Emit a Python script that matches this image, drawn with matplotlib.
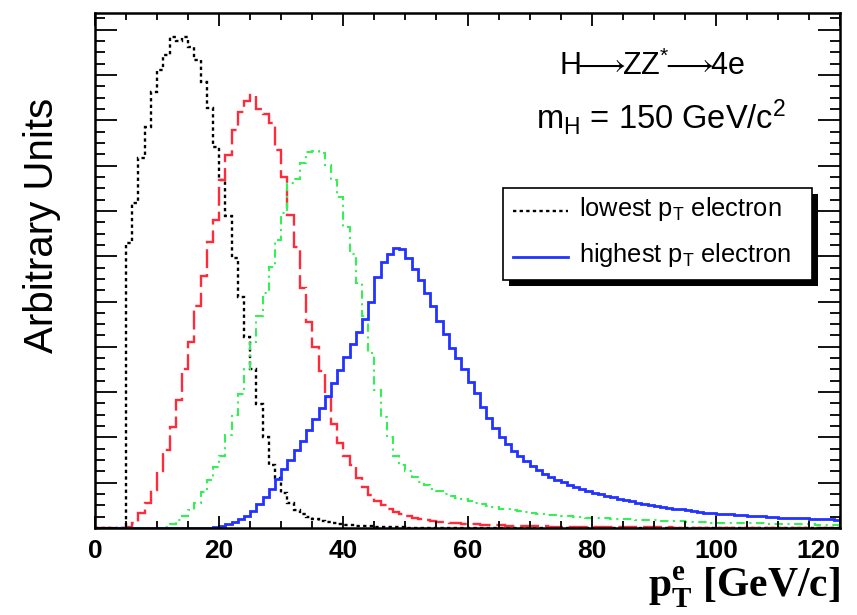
import numpy as np
import matplotlib
matplotlib.use("Agg")
import matplotlib.pyplot as plt
from matplotlib.ticker import MultipleLocator, NullFormatter
from matplotlib.patches import Rectangle
from matplotlib.lines import Line2D

plt.rcParams['font.family'] = ['Liberation Sans', 'DejaVu Sans']
plt.rcParams['mathtext.fontset'] = 'custom'
plt.rcParams['mathtext.rm'] = 'Liberation Sans'
plt.rcParams['mathtext.it'] = 'Liberation Sans:italic'
plt.rcParams['mathtext.bf'] = 'Liberation Serif:bold'

# ---- data: 1 GeV/c bins from 0 to 120, arbitrary units ----
bin_edges = np.arange(0, 121, 1)
x_ticks = [0, 20, 40, 60, 80, 100, 120]

lowest_pt = [
    0, 0, 0, 0, 0, 6.29, 7.17, 8.17, 8.86, 9.63,
    10.11, 10.44, 10.85, 10.76, 10.85, 10.63, 10.33, 9.85, 9.27, 8.41,
    7.68, 6.88, 5.96, 5.10, 4.22, 3.50, 2.74, 2.02, 1.40, 1.10,
    0.77, 0.55, 0.40, 0.32, 0.25, 0.19, 0.15, 0.13, 0.10, 0.09,
    0.07, 0.06, 0.05, 0.05, 0.04, 0.03, 0.03, 0.02, 0.02, 0.02,
    0.01, 0.01, 0.01, 0.01, 0.01, 0.01, 0.01, 0.01, 0.01, 0.01,
    0.01, 0.01, 0.01, 0.01, 0.01, 0, 0, 0, 0, 0,
] + [0] * 50

second_pt = [
    0, 0, 0, 0, 0, 0.02, 0.11, 0.33, 0.55, 0.84,
    1.25, 1.73, 2.24, 2.83, 3.50, 4.10, 4.90, 5.56, 6.32, 6.80,
    7.68, 8.23, 8.79, 9.19, 9.42, 9.56, 9.25, 9.14, 8.94, 8.34,
    7.76, 6.90, 6.20, 5.30, 4.55, 4.00, 3.46, 2.90, 2.30, 1.87,
    1.60, 1.40, 1.10, 0.90, 0.73, 0.60, 0.50, 0.42, 0.35, 0.30,
    0.26, 0.22, 0.20, 0.18, 0.16, 0.14, 0.13, 0.11, 0.10, 0.09,
    0.08, 0.08, 0.07, 0.07, 0.06, 0.06, 0.05, 0.05, 0.05, 0.04,
    0.04, 0.04, 0.04, 0.03, 0.03, 0.03, 0.03, 0.03, 0.02, 0.02,
    0.02, 0.02, 0.02, 0.02, 0.02, 0.02, 0.02, 0.02, 0.02, 0.02,
    0.02, 0.02, 0.02, 0.01, 0.01, 0.01, 0.01, 0.01, 0.01, 0.01,
] + [0.01] * 20

third_pt = [
    0, 0, 0, 0, 0, 0, 0, 0, 0, 0,
    0, 0.02, 0.08, 0.17, 0.27, 0.40, 0.55, 0.80, 1.05, 1.35,
    1.60, 2.05, 2.50, 2.95, 3.50, 4.10, 4.67, 5.18, 5.77, 6.36,
    6.95, 7.61, 7.70, 8.05, 8.30, 8.33, 8.28, 8.02, 7.68, 7.31,
    6.65, 6.06, 5.40, 4.67, 3.86, 3.05, 2.45, 2.00, 1.60, 1.40,
    1.25, 1.12, 1.02, 0.94, 0.87, 0.81, 0.76, 0.71, 0.67, 0.63,
    0.60, 0.56, 0.52, 0.49, 0.46, 0.43, 0.41, 0.39, 0.37, 0.35,
    0.33, 0.31, 0.30, 0.29, 0.28, 0.27, 0.26, 0.25, 0.24, 0.23,
    0.22, 0.21, 0.21, 0.20, 0.20, 0.19, 0.19, 0.18, 0.18, 0.17,
    0.17, 0.16, 0.16, 0.15, 0.15, 0.14, 0.14, 0.13, 0.13, 0.12,
    0.12, 0.12, 0.11, 0.11, 0.11, 0.10, 0.10, 0.10, 0.09, 0.09,
    0.09, 0.09, 0.08, 0.08, 0.08, 0.08, 0.07, 0.07, 0.07, 0.07,
]

highest_pt = [
    0, 0, 0, 0, 0, 0, 0, 0, 0, 0,
    0, 0, 0, 0, 0, 0, 0, 0, 0, 0.02,
    0.04, 0.08, 0.13, 0.19, 0.27, 0.38, 0.52, 0.68, 0.86, 1.08,
    1.30, 1.50, 1.72, 1.93, 2.17, 2.40, 2.66, 2.92, 3.20, 3.48,
    3.78, 4.06, 4.32, 4.62, 5.00, 5.55, 5.88, 6.05, 6.18, 6.15,
    5.95, 5.72, 5.48, 5.18, 4.90, 4.58, 4.28, 3.98, 3.75, 3.50,
    3.22, 2.97, 2.68, 2.42, 2.20, 2.00, 1.85, 1.70, 1.58, 1.47,
    1.37, 1.28, 1.20, 1.13, 1.07, 1.01, 0.96, 0.91, 0.86, 0.82,
    0.78, 0.74, 0.71, 0.68, 0.65, 0.62, 0.59, 0.56, 0.53, 0.51,
    0.49, 0.47, 0.45, 0.43, 0.41, 0.39, 0.37, 0.35, 0.34, 0.33,
    0.32, 0.31, 0.30, 0.29, 0.28, 0.27, 0.26, 0.26, 0.25, 0.24,
    0.23, 0.23, 0.22, 0.21, 0.21, 0.20, 0.20, 0.19, 0.19, 0.18,
]

W, H = 857, 615

def fx(px):
    return px / W

def fy(py):
    return 1 - py / H

fig = plt.figure(figsize=(W / 100, H / 100), dpi=100)
ax = fig.add_axes([fx(95), fy(528), fx(840) - fx(95), fy(13) - fy(528)])

dotted = (0, (1.4, 1.4))
dashed = (0, (8, 2.5))
dashdot = (0, (4, 2.2, 1, 2.2))

ax.stairs(lowest_pt, bin_edges, baseline=0, color='black', lw=1.7, ls=dotted)
ax.stairs(second_pt, bin_edges, baseline=0, color='#ff2a3a', lw=1.7, ls=dashed)
ax.stairs(third_pt, bin_edges, baseline=0, color='#33f055', lw=1.5, ls=dashdot)
ax.stairs(highest_pt, bin_edges, baseline=0, color='#2233ff', lw=2.0)

ax.set_xlim(0, 120)
ax.set_ylim(0, 11.37)

ax.set_xticks(x_ticks, labels=[str(t) for t in x_ticks], fontweight='bold',
              fontsize=19)
ax.xaxis.set_minor_locator(MultipleLocator(5))
ax.yaxis.set_major_locator(MultipleLocator(1))
ax.yaxis.set_minor_locator(MultipleLocator(0.25))
ax.yaxis.set_major_formatter(NullFormatter())

ax.tick_params(axis='both', which='both', direction='in', top=True, right=True,
               color='black', width=1.3)
ax.tick_params(axis='x', which='major', length=9, pad=8)
ax.tick_params(axis='x', which='minor', length=5)
ax.tick_params(axis='y', which='major', length=16)
ax.tick_params(axis='y', which='minor', length=7)
# last label sits inside the frame, as in the original
ax.xaxis.get_major_ticks()[-1].label1.set_horizontalalignment('right')
for sp in ax.spines.values():
    sp.set_linewidth(1.8)

# axis titles
fig.text(fx(840), fy(597), r'$\mathbf{p}_{\mathbf{T}}^{\mathbf{e}}$ [GeV/c]',
         ha='right', va='baseline', fontsize=30, fontweight='bold',
         family='Liberation Serif')
fig.text(fx(42), fy(98), 'Arbitrary Units', rotation=90, ha='center', va='top',
         fontsize=29)

# process labels
fig.text(fx(652), fy(75),
         r'H$\!\!{\longrightarrow}\!\!$ZZ$^{*}\!\!{\longrightarrow}\!\!$4e',
         ha='center', va='baseline', fontsize=22)
fig.text(fx(661), fy(129), r'm$_{\rm H}$ = 150 GeV/c$^{2}$', ha='center',
         va='baseline', fontsize=23.5)

# legend box with ROOT-like shadow
lx0, lx1, ly0, ly1 = 503, 812, 188, 280
fig.add_artist(Rectangle((fx(lx0 + 6), fy(ly1 + 6)), fx(lx1) - fx(lx0),
                         fy(ly0) - fy(ly1), transform=fig.transFigure,
                         facecolor='black', edgecolor='black', lw=0))
fig.add_artist(Rectangle((fx(lx0), fy(ly1)), fx(lx1) - fx(lx0),
                         fy(ly0) - fy(ly1), transform=fig.transFigure,
                         facecolor='white', edgecolor='black', lw=1.2))
fig.add_artist(Line2D([fx(513), fx(568)], [fy(211), fy(211)],
                      transform=fig.transFigure, color='black', lw=1.7, ls=dotted))
fig.add_artist(Line2D([fx(513), fx(568)], [fy(257), fy(257)],
                      transform=fig.transFigure, color='#2233ff', lw=2.0))
fig.text(fx(579), fy(216), r'lowest p$_{\rm T}$ electron', ha='left',
         va='baseline', fontsize=18.3)
fig.text(fx(579), fy(262), r'highest p$_{\rm T}$ electron', ha='left',
         va='baseline', fontsize=18.3)

fig.savefig('out.png', dpi=100)
